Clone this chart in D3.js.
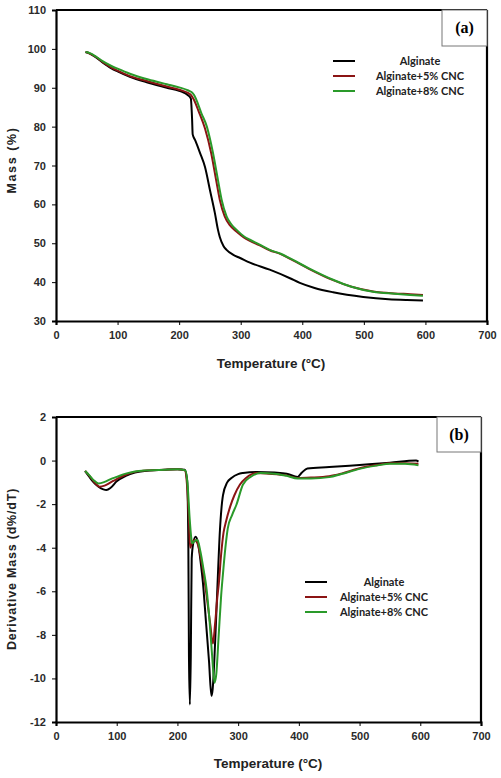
<!DOCTYPE html>
<html>
<head>
<meta charset="utf-8">
<script src="https://cdn.jsdelivr.net/npm/d3@7/dist/d3.min.js"></script>
<style>
  html, body { margin: 0; padding: 0; background: #fff; }
  svg { display: block; }
  .tick text { font-family: Arial, "Liberation Sans", sans-serif; font-weight: bold; font-size: 11px; fill: #2a2a2a; }
  .axtitle { font-family: Arial, "Liberation Sans", sans-serif; font-weight: bold; fill: #222; }
  .leg { font-family: Lato, "Open Sans", sans-serif; font-weight: bold; font-size: 11px; fill: #222; }
  .tag { font-family: "Liberation Serif", "DejaVu Serif", serif; font-weight: bold; font-size: 16px; fill: #000; }
</style>
</head>
<body>
<svg id="chart" width="501" height="778"></svg>
<script>
// ---------- DATA ----------
const seriesNames = ["Alginate", "Alginate+5% CNC", "Alginate+8% CNC"];
const seriesColors = ["#000000", "#8b1414", "#2a9a2a"];
const xTicks = [0, 100, 200, 300, 400, 500, 600, 700];
const yTicksA = [30, 40, 50, 60, 70, 80, 90, 100, 110];
const yTicksB = [-12, -10, -8, -6, -4, -2, 0, 2];

// (a) TGA: [temperature °C, mass %]
const tgaAlginate = [[48,99.2],[55,98.8],[65,97.8],[75,96.6],[90,95.0],[100,94.2],[120,92.8],[150,91.3],[180,90.0],[200,89.2],[215,88.0],[219,87.2],[221,82.0],[222,78.0],[226,76.5],[234,73.2],[242,69.6],[250,63.7],[258,57.8],[263,53.5],[266,51.6],[272,49.3],[277,48.3],[288,47.0],[299,46.2],[315,45.0],[347,43.2],[380,41.0],[396,39.8],[420,38.5],[450,37.4],[499,36.2],[540,35.6],[570,35.4],[596,35.3]];
const tgaCNC5 = [[48,99.2],[55,98.8],[65,97.9],[75,96.7],[90,95.2],[100,94.4],[120,93.0],[150,91.6],[180,90.3],[200,89.5],[215,88.6],[220,88.0],[224,86.9],[232,83.8],[242,79.5],[252,73.2],[260,66.3],[266,61.2],[274,56.9],[283,54.5],[293,53.0],[305,51.5],[315,50.6],[330,49.5],[347,48.2],[365,47.2],[385,45.6],[410,43.5],[450,40.5],[480,38.8],[515,37.6],[550,37.1],[575,36.9],[596,36.7]];
const tgaCNC8 = [[48,99.2],[55,98.9],[65,98.0],[75,96.9],[90,95.6],[100,94.9],[120,93.6],[150,92.1],[180,90.9],[200,90.1],[215,89.3],[220,88.9],[224,88.2],[228,86.9],[236,83.5],[245,80.0],[255,73.2],[263,66.3],[269,61.2],[277,56.9],[285,54.8],[293,53.5],[305,51.8],[315,50.9],[330,49.7],[347,48.3],[365,47.3],[385,45.7],[410,43.6],[450,40.6],[480,38.8],[515,37.5],[550,37.0],[575,36.7],[596,36.5]];

// (b) DTG: [temperature °C, d%/dT]
const dtgAlginate = [[48,-0.48],[55,-0.75],[62,-1.0],[70,-1.2],[78,-1.32],[83,-1.35],[90,-1.25],[100,-0.95],[115,-0.7],[130,-0.55],[150,-0.47],[180,-0.42],[200,-0.40],[212,-0.42],[216,-0.9],[218,-4.0],[219,-9.0],[220.5,-11.2],[222,-9.0],[223.5,-4.5],[226,-3.8],[230,-3.5],[234,-3.8],[238,-4.6],[242,-5.6],[247,-7.4],[252,-9.2],[256,-10.8],[258,-10.5],[262,-8.4],[266,-5.7],[270,-3.2],[275,-1.6],[282,-1.0],[289,-0.8],[300,-0.62],[308,-0.57],[330,-0.52],[360,-0.55],[380,-0.6],[398,-0.75],[405,-0.55],[414,-0.36],[450,-0.3],[500,-0.2],[550,-0.1],[593,0.0],[597,-0.05]];
const dtgCNC5 = [[48,-0.48],[55,-0.7],[62,-0.95],[72,-1.2],[80,-1.15],[90,-1.0],[100,-0.85],[115,-0.65],[130,-0.52],[150,-0.45],[180,-0.42],[200,-0.4],[212,-0.45],[216,-1.2],[219,-2.8],[221,-4.0],[224,-3.8],[228,-3.65],[233,-3.8],[238,-4.4],[243,-5.2],[248,-6.2],[254,-7.5],[258.5,-8.4],[262,-7.5],[266,-6.2],[268,-5.7],[272,-4.3],[276,-3.3],[280,-2.8],[287,-2.1],[294,-1.58],[303,-1.1],[313,-0.8],[330,-0.57],[350,-0.6],[380,-0.68],[398,-0.8],[420,-0.78],[450,-0.72],[470,-0.6],[500,-0.35],[530,-0.2],[550,-0.12],[575,-0.12],[597,-0.15]];
const dtgCNC8 = [[48,-0.48],[55,-0.68],[62,-0.9],[70,-1.05],[80,-0.98],[90,-0.85],[100,-0.75],[115,-0.6],[130,-0.5],[150,-0.45],[180,-0.42],[200,-0.4],[213,-0.45],[217,-1.2],[220,-2.6],[223,-3.6],[224.5,-3.8],[228,-3.7],[233,-3.65],[238,-4.2],[243,-5.0],[248,-5.9],[253,-7.4],[257,-8.9],[261,-10.2],[264,-9.8],[268,-8.0],[272,-6.2],[275,-5.2],[279,-4.0],[283,-3.1],[290,-2.5],[297,-2.04],[308,-1.1],[321,-0.74],[337,-0.57],[360,-0.6],[380,-0.7],[398,-0.82],[420,-0.82],[450,-0.76],[470,-0.62],[500,-0.38],[530,-0.22],[550,-0.15],[575,-0.15],[597,-0.22]];

// ---------- DRAW ----------
const svg = d3.select("#chart");

function panel(cfg) {
  const x = d3.scaleLinear().domain([0, 700]).range([cfg.left, cfg.right]);
  const y = d3.scaleLinear().domain(cfg.yDomain).range([cfg.bottom, cfg.top]);
  const g = svg.append("g");

  // lines
  const line = d3.line().x(d => x(d[0])).y(d => y(d[1])).curve(d3.curveMonotoneX);
  cfg.series.forEach((s, i) => {
    g.append("path").datum(s).attr("d", line)
      .attr("fill", "none").attr("stroke", seriesColors[i])
      .attr("stroke-width", 2).attr("stroke-linejoin", "round");
  });

  // axes
  const xa = g.append("g").attr("transform", `translate(0,${cfg.bottom})`)
    .call(d3.axisBottom(x).tickValues(xTicks).tickSize(4).tickPadding(6).tickFormat(d => String(d)));
  const ya = g.append("g").attr("transform", `translate(${cfg.left},0)`)
    .call(d3.axisLeft(y).tickValues(cfg.yTicks).tickSize(4).tickPadding(6).tickFormat(d => String(d)));
  [xa, ya].forEach(a => {
    a.select(".domain").attr("stroke", "#000").attr("stroke-width", 2.2);
    a.selectAll(".tick line").attr("stroke", "#000").attr("stroke-width", 1);
  });
  // frame top & right
  g.append("line").attr("x1", cfg.left).attr("x2", cfg.right).attr("y1", cfg.top).attr("y2", cfg.top)
    .attr("stroke", "#000").attr("stroke-width", 2.2);
  g.append("line").attr("x1", cfg.right).attr("x2", cfg.right).attr("y1", cfg.top).attr("y2", cfg.bottom)
    .attr("stroke", "#000").attr("stroke-width", 2.2);

  // tag box
  g.append("rect").attr("x", cfg.tagX).attr("y", cfg.top).attr("width", cfg.right - cfg.tagX)
    .attr("height", cfg.tagB - cfg.top).attr("fill", "#fff").attr("stroke", "#777").attr("stroke-width", 1);
  g.append("text").attr("class", "tag").attr("x", (cfg.tagX + cfg.right) / 2)
    .attr("y", (cfg.top + cfg.tagB) / 2 + 5).attr("text-anchor", "middle").text(cfg.tag);

  // legend
  seriesNames.forEach((n, i) => {
    const ly = cfg.legY + i * 15;
    g.append("line").attr("x1", cfg.legX).attr("x2", cfg.legX + 22).attr("y1", ly).attr("y2", ly)
      .attr("stroke", seriesColors[i]).attr("stroke-width", 2);
    g.append("text").attr("class", "leg").attr("x", cfg.legTextX).attr("y", ly + 4)
      .attr("text-anchor", "middle").text(n);
  });

  // titles
  g.append("text").attr("class", "axtitle").attr("x", cfg.xTitleX).attr("y", cfg.xTitleY)
    .attr("text-anchor", "middle").style("font-size", "13.5px").text("Temperature (°C)");
  g.append("text").attr("class", "axtitle")
    .attr("transform", `translate(${cfg.yTitleX},${cfg.yTitleY}) rotate(-90)`)
    .attr("text-anchor", "middle").style("font-size", "12.5px").style("letter-spacing", cfg.ls)
    .text(cfg.yTitle);
}

panel({
  left: 56, right: 487, top: 10, bottom: 321, yDomain: [30, 110], yTicks: yTicksA,
  series: [tgaAlginate, tgaCNC5, tgaCNC8],
  tag: "(a)", tagX: 442, tagB: 46,
  legX: 333, legTextX: 420, legY: 61,
  xTitleX: 271, xTitleY: 368, yTitleX: 16, yTitleY: 160, yTitle: "Mass (%)", ls: "1.6px"
});

panel({
  left: 56, right: 481, top: 417, bottom: 722, yDomain: [-12, 2], yTicks: yTicksB,
  series: [dtgAlginate, dtgCNC5, dtgCNC8],
  tag: "(b)", tagX: 437, tagB: 452,
  legX: 305, legTextX: 384, legY: 582,
  xTitleX: 268, xTitleY: 768, yTitleX: 16, yTitleY: 569, yTitle: "Derivative Mass (d%/dT)", ls: "0.8px"
});
</script>
</body>
</html>
